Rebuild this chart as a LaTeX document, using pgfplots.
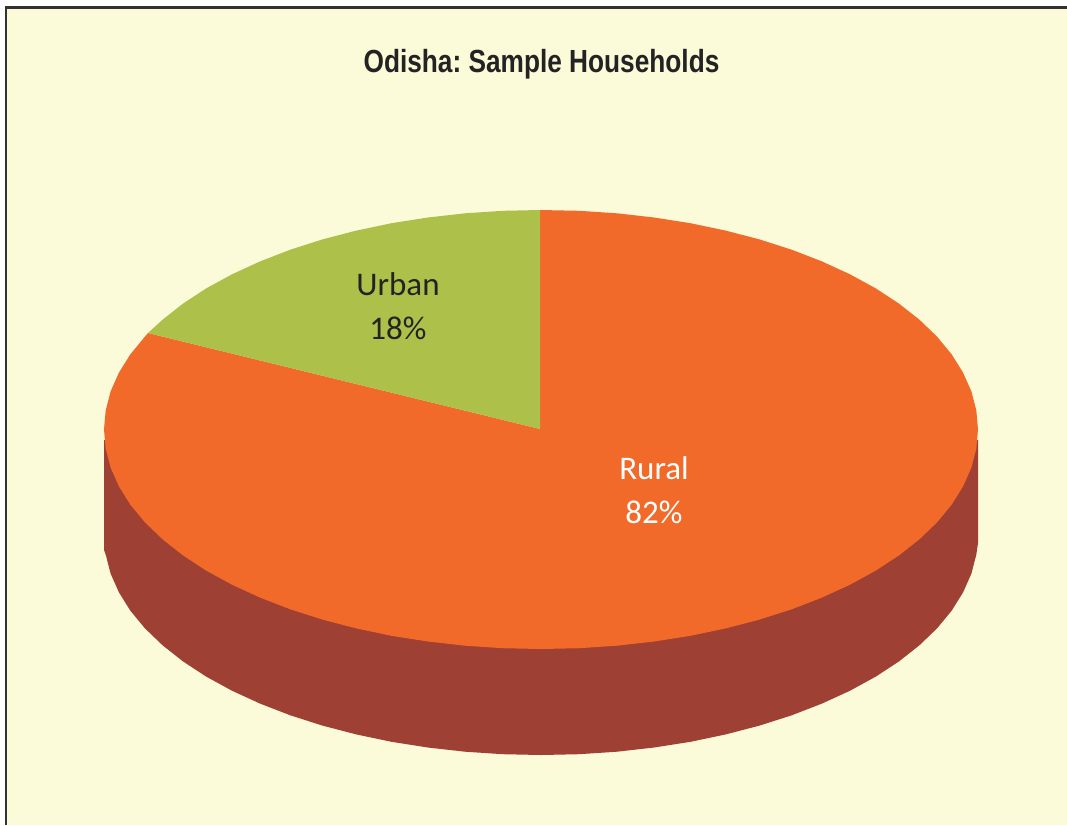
\documentclass[border=0pt]{standalone}
\usepackage{fontspec}
\setmainfont{Carlito}
\newfontfamily\titlefont[FakeStretch=0.82]{Liberation Sans}
\usepackage{pgfplots}
\pgfplotsset{compat=1.18}
\definecolor{Cream}{RGB}{251,250,217}
\definecolor{RuralTop}{RGB}{241,106,41}
\definecolor{RuralSide}{RGB}{158,64,52}
\definecolor{UrbanTop}{RGB}{172,192,74}
\definecolor{Frame}{RGB}{50,50,50}
\definecolor{DarkText}{RGB}{35,35,35}

\begin{document}
\begin{tikzpicture}
\begin{axis}[
    scale only axis,
    width=1067pt,
    height=825pt,
    xmin=0, xmax=1067,
    ymin=0, ymax=825,
    y dir=reverse,
    hide axis,
    clip=true,
]
% page and panel
\addplot[fill=white, draw=none] coordinates {(0,0) (1067,0) (1067,825) (0,825)} -- cycle;
\addplot[fill=Cream, draw=none] coordinates {(6,7.5) (1067,7.5) (1067,825) (6,825)} -- cycle;
\addplot[draw=Frame, line width=2.2pt] coordinates {(6,825) (6,7.5) (1067,7.5)};

% side wall of the disc
\addplot[fill=RuralSide, draw=none] coordinates {
    (104,440) (104,550) (105.7,554.6) (110.6,573.6) (118.9,592.3) (130.3,610.6)
    (144.9,628.3) (162.6,645.3) (183,661.4) (206.2,676.6) (232,690.7) (260.1,703.6)
    (290.3,715.3) (322.5,725.6) (356.3,734.4) (391.5,741.8) (427.9,747.5) (465.1,751.7)
    (502.9,754.2) (541,755) (579.1,754.2) (616.9,751.7) (654.1,747.5) (690.5,741.8)
    (725.7,734.4) (759.5,725.6) (791.7,715.3) (821.9,703.6) (850,690.7) (875.8,676.6)
    (899,661.4) (919.4,645.3) (937.1,628.3) (951.7,610.6) (963.1,592.3) (971.4,573.6)
    (976.3,554.6) (978,543) (978,440)
} -- cycle;

% Rural, 82%
\addplot[fill=RuralTop, draw=none] coordinates {
    (540,429) (540,210) (579.1,210.8) (616.9,213.3) (654.1,217.5) (690.5,223.2)
    (725.7,230.6) (759.5,239.4) (791.7,249.7) (821.9,261.4) (850,274.3) (875.8,288.4)
    (899,303.6) (919.4,319.7) (937.1,336.7) (951.7,354.4) (963.1,372.7) (971.4,391.4)
    (976.3,410.4) (978,429.5) (976.3,448.6) (971.4,467.6) (963.1,486.3) (951.7,504.6)
    (937.1,522.3) (919.4,539.3) (899,555.4) (875.8,570.6) (850,584.7) (821.9,597.6)
    (791.7,609.3) (759.5,619.6) (725.7,628.4) (690.5,635.8) (654.1,641.5) (616.9,645.7)
    (579.1,648.2) (541,649) (502.9,648.2) (465.1,645.7) (427.9,641.5) (391.5,635.8)
    (356.3,628.4) (322.5,619.6) (290.3,609.3) (260.1,597.6) (232,584.7) (206.2,570.6)
    (183,555.4) (162.6,539.3) (144.9,522.3) (130.3,504.6) (118.9,486.3) (110.6,467.6)
    (105.7,448.6) (104,429.5) (105.7,410.4) (110.6,391.4) (118.9,372.7) (130.3,354.4)
    (144.9,336.7) (148,333)
} -- cycle;

% Urban, 18%
\addplot[fill=UrbanTop, draw=none] coordinates {
    (540,429) (148,333) (162.6,319.7) (183,303.6) (206.2,288.4) (232,274.3)
    (260.1,261.4) (290.3,249.7) (322.5,239.4) (356.3,230.6) (391.5,223.2) (427.9,217.5)
    (465.1,213.3) (502.9,210.8) (540,210)
} -- cycle;

\node[font=\titlefont\bfseries\fontsize{32}{35}\selectfont\frenchspacing, text=DarkText, anchor=center]
    at (axis cs:541.5,64.5) {Odisha: Sample Households};
\node[font=\fontsize{33}{44}\selectfont, text=DarkText, align=center, anchor=center]
    at (axis cs:398,306) {Urban\\18\%};
\node[font=\fontsize{33}{44}\selectfont, text=white, align=center, anchor=center]
    at (axis cs:654,490) {Rural\\82\%};
\end{axis}
\end{tikzpicture}
\end{document}
